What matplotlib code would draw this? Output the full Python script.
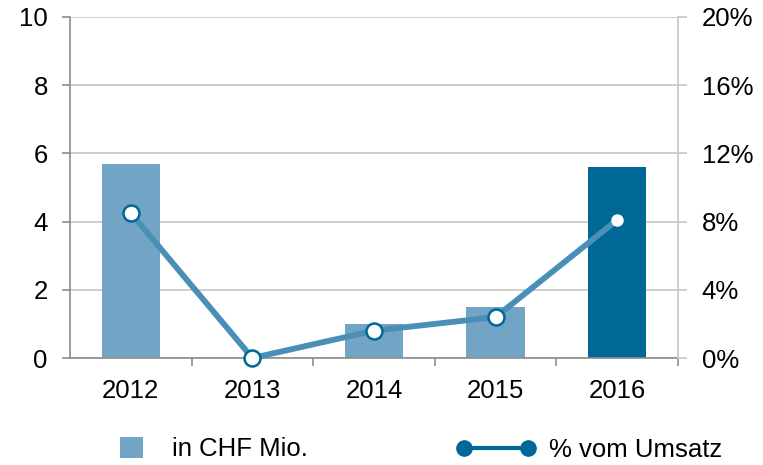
import matplotlib
matplotlib.use("Agg")
import matplotlib.pyplot as plt
from matplotlib.lines import Line2D
from matplotlib.patches import Patch

plt.rcParams["font.family"] = ["Liberation Sans", "DejaVu Sans"]

years = ["2012", "2013", "2014", "2015", "2016"]
chf_mio = [5.7, 0.0, 1.0, 1.5, 5.6]
pct_umsatz = [8.5, 0.0, 1.6, 2.4, 8.1]
left_ticks = [0, 2, 4, 6, 8, 10]
right_ticks = [0, 4, 8, 12, 16, 20]

light_blue = "#72a4c5"
dark_blue = "#006896"
line_blue = "#4a8fb5"
grid_grey = "#cacaca"
axis_grey = "#8c8c8c"
FS = 18.5

fig = plt.figure(figsize=(7.63, 4.65), dpi=100)
ax = fig.add_axes([70 / 763, 1 - 358 / 465, 608 / 763, 341 / 465])
ax2 = ax.twinx()

x = list(range(len(years)))
colors = [light_blue] * (len(years) - 1) + [dark_blue]
ax.bar(x, chf_mio, width=0.48, color=colors, zorder=2)

ax.set_xlim(-0.5, len(years) - 0.5)
ax.set_ylim(0, 10)
ax.set_yticks(left_ticks)
ax.set_xticks(x)
ax.set_xticklabels(years)
ax.set_xticks([i + 0.5 for i in x], minor=True)
ax.tick_params(axis="x", which="major", length=0, pad=15, labelsize=FS)
ax.tick_params(axis="x", which="minor", length=6, color=axis_grey, width=1.2)
ax.tick_params(axis="y", length=6, color=axis_grey, width=1.2, labelsize=FS, pad=10)
ax.grid(axis="y", color=grid_grey, linewidth=1.3, zorder=0)
ax.set_axisbelow(True)
for side in ["top", "right"]:
    ax.spines[side].set_visible(False)
for side in ["left", "bottom"]:
    ax.spines[side].set_color(axis_grey)
    ax.spines[side].set_linewidth(1.2)

# line: circles with blue rim, last point plain white dot
ax2.plot(x, pct_umsatz, color=line_blue, linewidth=4.2, zorder=3, clip_on=False)
ax2.plot(x[:-1], pct_umsatz[:-1], linestyle="none", marker="o", markersize=11.5,
         markerfacecolor="white", markeredgecolor=dark_blue, markeredgewidth=1.8,
         zorder=4, clip_on=False)
ax2.plot(x[-1:], pct_umsatz[-1:], linestyle="none", marker="o", markersize=9,
         markerfacecolor="white", markeredgewidth=0, zorder=4)
ax2.set_ylim(0, 20)
ax2.set_yticks(right_ticks)
ax2.set_yticklabels([f"{t}%" for t in right_ticks])
ax2.tick_params(axis="y", length=6.5, color=grid_grey, width=1.3, labelsize=FS, pad=10.5)
for side in ["top", "left", "bottom"]:
    ax2.spines[side].set_visible(False)
ax2.spines["right"].set_color(grid_grey)
ax2.spines["right"].set_linewidth(1.3)

bar_handle = Patch(facecolor=light_blue, edgecolor="none")
line_handle = Line2D([], [], color=dark_blue, linewidth=3, marker="o", markersize=12,
                     markerfacecolor=dark_blue, markeredgewidth=0)
fig.legend([bar_handle], ["in CHF Mio."], loc="center left",
           bbox_to_anchor=(120 / 763, 1 - 449 / 465), frameon=False, fontsize=FS,
           borderpad=0, borderaxespad=0, handlelength=0.9, handleheight=0.9,
           handletextpad=1.13)
fig.legend([line_handle], ["% vom Umsatz"], loc="center left", numpoints=2,
           bbox_to_anchor=(456 / 763, 1 - 450 / 465), frameon=False, fontsize=FS,
           borderpad=0, borderaxespad=0, handlelength=3.1, handletextpad=0.53)

fig.savefig("out.png", dpi=100)
